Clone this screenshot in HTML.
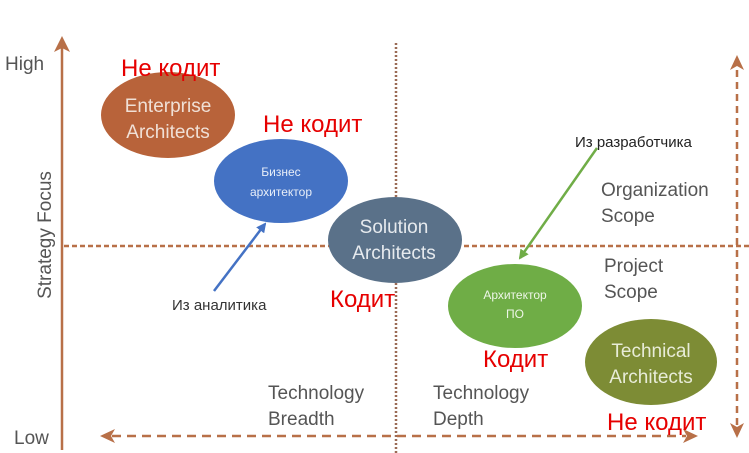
<!DOCTYPE html>
<html><head><meta charset="utf-8"><style>
html,body{margin:0;padding:0;background:#fff;}
svg{display:block;}
text{font-family:"Liberation Sans","DejaVu Sans",sans-serif;}
</style></head><body>
<svg width="749" height="453" viewBox="0 0 749 453" xmlns="http://www.w3.org/2000/svg">
<defs>
<marker id="bl" markerWidth="10" markerHeight="10" refX="8" refY="5" orient="auto" markerUnits="userSpaceOnUse"><path d="M0,0 L10,5 L0,10 z" fill="#4472c4"/></marker>
<marker id="gr" markerWidth="10" markerHeight="10" refX="8" refY="5" orient="auto" markerUnits="userSpaceOnUse"><path d="M0,0 L10,5 L0,10 z" fill="#70ad47"/></marker>
</defs>
<!-- left axis -->
<line x1="62" y1="450" x2="62" y2="48" stroke="#b87048" stroke-width="2.5"/>
<path d="M62,36 L70,52 L62,48 L54,52 z" fill="#b87048"/>
<text x="5" y="70" font-size="19" fill="#555">High</text>
<text x="14" y="444" font-size="19" fill="#555">Low</text>
<text transform="translate(51,235) rotate(-90)" font-size="19" fill="#555" text-anchor="middle">Strategy Focus</text>
<!-- dotted lines -->
<line x1="396" y1="43" x2="396" y2="453" stroke="#9a6a55" stroke-width="2.5" stroke-dasharray="2,2"/>
<line x1="64" y1="246" x2="749" y2="246" stroke="#b87048" stroke-width="2.5" stroke-dasharray="5,3"/>
<!-- right dashed arrow -->
<line x1="737" y1="70" x2="737" y2="425" stroke="#b87048" stroke-width="2.5" stroke-dasharray="7,5"/>
<path d="M737,55 L744,70 L737,66 L730,70 z" fill="#b87048"/>
<path d="M737,438 L744,423 L737,427 L730,423 z" fill="#b87048"/>
<!-- bottom dashed arrow -->
<line x1="112" y1="436" x2="686" y2="436" stroke="#b87048" stroke-width="2.5" stroke-dasharray="9,6"/>
<path d="M100,436 L115,429 L111,436 L115,443 z" fill="#b87048"/>
<path d="M698,436 L683,429 L687,436 L683,443 z" fill="#b87048"/>
<!-- ellipses -->
<ellipse cx="168" cy="115" rx="67" ry="43" fill="#b8633a"/>
<text x="168" y="112" font-size="19" fill="#f0e0d6" text-anchor="middle">Enterprise</text>
<text x="168" y="138" font-size="19" fill="#f0e0d6" text-anchor="middle">Architects</text>
<ellipse cx="281" cy="181" rx="67" ry="42" fill="#4472c4"/>
<text x="281" y="176" font-size="12" fill="#e8eef8" text-anchor="middle">Бизнес</text>
<text x="281" y="196" font-size="12" fill="#e8eef8" text-anchor="middle">архитектор</text>
<ellipse cx="395" cy="240" rx="67" ry="43" fill="#5a7189"/>
<text x="394" y="233" font-size="19" fill="#e6eaee" text-anchor="middle">Solution</text>
<text x="394" y="259" font-size="19" fill="#e6eaee" text-anchor="middle">Architects</text>
<ellipse cx="515" cy="306" rx="67" ry="42" fill="#6fad46"/>
<text x="515" y="299" font-size="12" fill="#eef6e8" text-anchor="middle">Архитектор</text>
<text x="515" y="318" font-size="12" fill="#eef6e8" text-anchor="middle">ПО</text>
<ellipse cx="651" cy="362" rx="66" ry="43" fill="#7d8c35"/>
<text x="651" y="357" font-size="19" fill="#e8ecd8" text-anchor="middle">Technical</text>
<text x="651" y="383" font-size="19" fill="#e8ecd8" text-anchor="middle">Architects</text>
<!-- arrows -->
<line x1="214" y1="291" x2="265" y2="224" stroke="#4472c4" stroke-width="2.5" marker-end="url(#bl)"/>
<line x1="597" y1="148" x2="520" y2="258" stroke="#70ad47" stroke-width="2.5" marker-end="url(#gr)"/>
<text x="172" y="310" font-size="15" fill="#333">Из аналитика</text>
<text x="575" y="147" font-size="15" fill="#222">Из разработчика</text>
<!-- scope labels -->
<g font-size="19" fill="#555">
<text x="601" y="196">Organization</text>
<text x="601" y="222">Scope</text>
<text x="604" y="272">Project</text>
<text x="604" y="298">Scope</text>
<text x="268" y="399">Technology</text>
<text x="268" y="425">Breadth</text>
<text x="433" y="399">Technology</text>
<text x="433" y="425">Depth</text>
</g>
<!-- red labels -->
<g font-size="24" fill="#e60000">
<text x="121" y="76">Не кодит</text>
<text x="263" y="132">Не кодит</text>
<text x="330" y="307">Кодит</text>
<text x="483" y="367">Кодит</text>
<text x="607" y="430">Не кодит</text>
</g>
</svg>
</body></html>
